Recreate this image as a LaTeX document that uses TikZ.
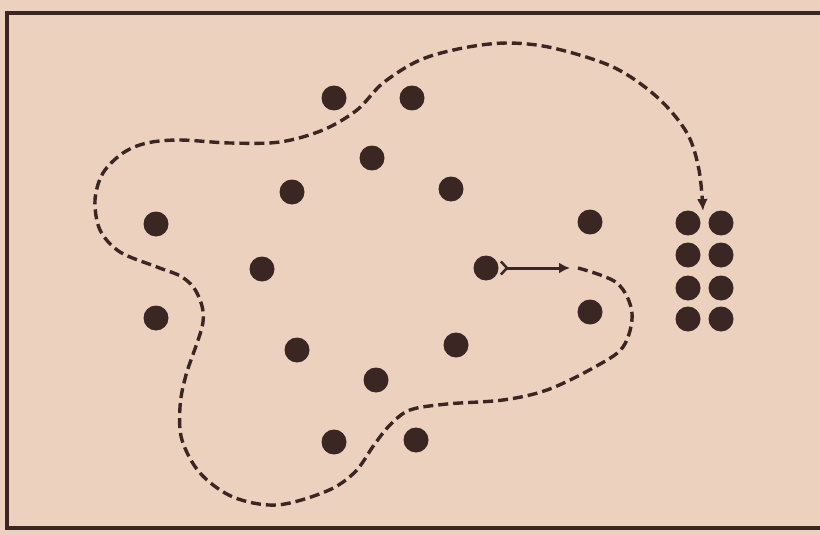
\documentclass[tikz,border=0pt]{standalone}
\usetikzlibrary{arrows.meta}
\definecolor{bg}{RGB}{236,209,190}
\definecolor{ink}{RGB}{58,38,35}
\begin{document}
\begin{tikzpicture}[x=1pt,y=-1pt,
  dot/.style={circle,fill=ink,inner sep=0pt,minimum size=25pt},
  route/.style={draw=ink,line width=3.4pt,dash pattern=on 10pt off 5pt},
  frame/.style={draw=ink,line width=3.2pt}]
\fill[bg] (0,0) rectangle (820,535);
\useasboundingbox (0,0) rectangle (820,535);
\draw[frame] (820,13) -- (7,13) -- (7,528) -- (820,528);
% scattered dots
\node[dot] (d1) at (334,98) {};
\node[dot] (d2) at (412,98) {};
\node[dot] (d3) at (372,158) {};
\node[dot] (d4) at (292,192) {};
\node[dot] (d5) at (451,189) {};
\node[dot] (d6) at (156,224) {};
\node[dot] (d7) at (262,269) {};
\node[dot] (d8) at (486,268) {};
\node[dot] (d9) at (156,318) {};
\node[dot] (d10) at (297,350) {};
\node[dot] (d11) at (456,345) {};
\node[dot] (d12) at (376,380) {};
\node[dot] (d13) at (334,442) {};
\node[dot] (d14) at (416,440) {};
\node[dot] (r1) at (590,222) {};
\node[dot] (r2) at (590,312) {};
% grid
\foreach \i/\y in {1/223,2/255,3/288,4/319}{
  \node[dot] (ga\i) at (688,\y) {};
  \node[dot] (gb\i) at (721,\y) {};
}
\coordinate (tip) at (570,268);
\coordinate (start) at (578,268);
\coordinate (stop) at (703,211);
\draw[ink,line width=3pt,{Straight Barb[reversed,length=6pt,width=13pt,line width=2.5pt]}-{Latex[length=11pt,width=11pt]}] ([xshift=1pt]d8.east) -- (tip);
\draw[route,-{Latex[length=12pt,width=11pt]}] plot[smooth,tension=0.55] coordinates {
 (start) (617,283) (632,313) (623,347) (593,368) (547,390) (503,400) (447,404)
 (410,410) (390,425) (374,445) (355,472) (327,491) (277,505) (233,497) (200,473)
 (182,440) (180,407) (186,375) (203,322) (197,293) (182,277) (157,267) (120,252)
 (100,230) (95,200) (103,173) (123,153) (147,143) (180,140) (230,143) (280,142)
 (323,130) (357,110) (383,83) (420,60) (463,48) (507,43) (553,48) (613,67)
 (657,97) (687,133) (699,170) (stop)};
\end{tikzpicture}
\end{document}
